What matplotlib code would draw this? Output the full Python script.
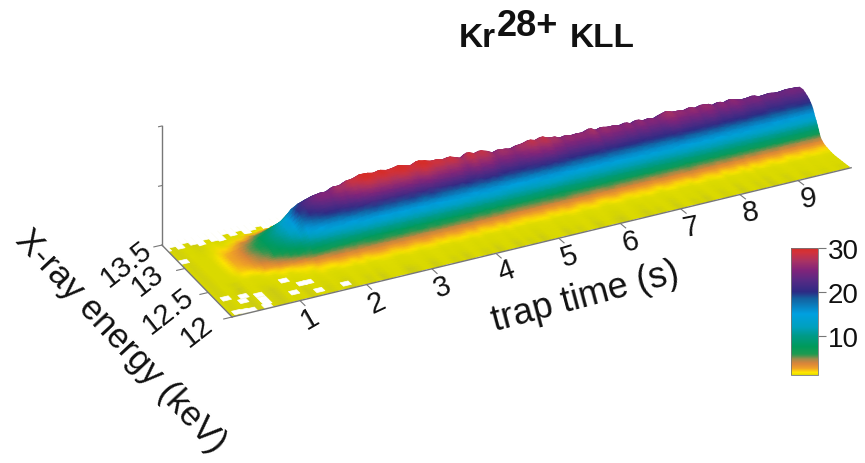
import matplotlib
matplotlib.use('Agg')
import matplotlib.pyplot as plt
import numpy as np
from matplotlib.collections import PolyCollection
from matplotlib.colors import LinearSegmentedColormap, Normalize
from matplotlib.cm import ScalarMappable

plt.rcParams['font.family'] = ['Liberation Sans', 'DejaVu Sans']

# trap time nodes (s), one every 0.1 s
trap_time = np.arange(100) * 0.1

# height of the line at each trap time (counts)
peak_counts = [0, 0, .1, .2, .5, 1, 1.8, 2.6, 3.5, 4.5,
               5.5, 7, 9, 10.5, 12.5, 15, 19, 21.5, 23, 23.8,
               24.4, 24.6, 26, 26.4, 27.8, 28, 29.4, 29.6, 28.8, 29.2,
               28.6, 29.2, 29.6, 28.6, 28.4, 29.8, 29.4, 28, 28.2, 27.8,
               28, 27.4, 26, 28.2, 27.2, 27.6, 26.9, 25, 26.4, 25.8,
               25, 26, 26.8, 27.6, 26.8, 27.6, 26.4, 26.6, 25, 25.4,
               25.2, 25.6, 25, 26.2, 24.8, 26, 25, 25.3, 24.2, 25.2,
               24.2, 25.2, 24, 24.9, 24, 25.6, 26.2, 25.2, 25.5, 24.7,
               25.4, 24.8, 25.6, 25.2, 24, 24.8, 24.2, 25, 24.3, 23.8,
               23.6, 24, 23.2, 23.2, 23.4, 23.1, 23, 23.5, 23.6, 23.4]

# background level under the line at each trap time
floor_level = [.5, .3, .6, .4, .25, .6, .7, .3, .25, .6,
               .4, .7, .25, .5, .6, .3, .7, .4, .25, .6,
               .6, .3, .7, .25, .5, .7, .6, .25, .35, .7,
               .5, .25, .6, .7, .3, .5, .25, .7, .6, .3,
               .7, .25, .5, .6, .25, .7, .35, .6, .25, .5,
               .6, .7, .25, .5, .35, .7, .6, .25, .5, .7,
               .35, .25, .6, .7, .4, .25, .6, .35, .7, .5,
               .25, .6, .7, .35, .5, .25, .7, .6, .3, .5,
               .7, .25, .5, .6, .3, .7, .25, .6, .5, .3,
               .6, .7, .35, .5, .7, .4, .6, .6, .4, .5]

# energy nodes (keV) and line shape, relative to the peak
energy = [12.00, 12.04, 12.08, 12.12, 12.16, 12.20, 12.24, 12.28, 12.32, 12.36,
          12.40, 12.43, 12.46, 12.49, 12.52, 12.54, 12.56, 12.58, 12.60, 12.62,
          12.64, 12.66, 12.68, 12.70, 12.73, 12.76, 12.80, 12.84, 12.90, 12.95,
          13.00, 13.10, 13.20, 13.30, 13.35, 13.40, 13.45, 13.50]
line_shape = [0, 0, 0, .002, .004, .006, .008, .012, .022, .038,
              .058, .072, .095, .13, .18, .25, .34, .42, .50, .56,
              .64, .72, .78, .82, .88, .92, .96, 1, 1, .95,
              .88, .6, .3, .1, .05, .02, 0, 0]

# where the measured surface stops at the back, first 2.6 s
back_edge = [13.36, 13.42, 13.36, 13.44, 13.38, 13.33, 13.42, 13.36, 13.32, 13.44,
             13.38, 13.44, 13.33, 13.40, 13.44, 13.34, 13.40, 13.36, 13.44, 13.33,
             13.40, 13.36, 13.44, 13.38, 13.33, 13.40]

# holes in the spectrum (no counts)
gap_time = [.12, .22, .32, .38, .32, .58, .58, .58, .55, .14, 1.05, 1.23, 1.33, 1.03, 1.36, .07, 1.76]
gap_energy = [12.06, 12.05, 12.04, 12.30, 12.22, 12.26, 12.18, 12.11, 12.05, 12.33, 12.40, 12.28, 12.28,
              12.16, 12.10, 13.12, 12.10]

# colour scale of the plot
level_stops = [0, .4, 1.07, 1.6, 2.6, 3.7, 4.7, 5.8, 7.5, 10, 12, 15, 18.5, 20, 22.5, 25, 27, 29, 30]
level_colors = ['#bcbc30', '#d8d800', '#e0dc00', '#ffe600', '#f0a028', '#d9843a', '#a08a4a',
                '#1d9a50', '#009a5a', '#009a88', '#00a0be', '#00a0e0', '#14609f', '#2d2a84',
                '#552a84', '#82247a', '#a83264', '#d2323a', '#d62d28']
zmax = 30
zbottom = 1.07

# ticks
time_ticks = [1, 2, 3, 4, 5, 6, 7, 8, 9]
energy_ticks = [12, 12.5, 13, 13.5]
energy_labels = ['12', '12.5', '13', '13.5']
count_ticks = [30, 60]
bar_ticks = [10, 20, 30]


def project(t, en, z=0):
    # hand fitted perspective view, gives pixels of the figure
    e = np.asarray(en) - 12
    w = 1 + 0.01026 * t + 0.0222 * e
    x = (232 + 71.08 * t - 43.1 * e) / w
    y = (318 - 13.3 * t - 42.5 * e - 2.05 * z) / w
    return x, y


def cell(t0, t1, e0, e1):
    # corners of a floor patch in pixels
    x, y = project(np.array([t0, t1, t1, t0]), np.array([e0, e0, e1, e1]))
    return np.column_stack([x, y])


fig = plt.figure(figsize=(8.65, 4.64), dpi=100)
ax = fig.add_axes([0, 0, 1, 1])
ax.set_xlim(0, 865)
ax.set_ylim(464, 0)
ax.axis('off')

cmap = LinearSegmentedColormap.from_list('surfer', [(v / zmax, c) for v, c in zip(level_stops, level_colors)], N=512)
norm = Normalize(0, zmax)

# build the surface, back rows first so the front ones paint over them
en = np.array(energy)[::-1]
shape = np.array(line_shape)[::-1]
T, E = np.meshgrid(trap_time, en)
Z = np.outer(shape, peak_counts) + np.array(floor_level)
X, Y = project(T, E, Z)

rear = en >= 13.30
ax.pcolormesh(X[rear], Y[rear], Z[rear], cmap=cmap, norm=norm, shading='gouraud', zorder=1)

# ragged back edge, white over the rear rows only
edge_cells = [cell(trap_time[i] - 0.05, trap_time[i] + 0.05, edge, 13.55) for i, edge in enumerate(back_edge)]
ax.add_collection(PolyCollection(edge_cells, facecolors='white', edgecolors='white', linewidths=0.5, zorder=2))

front = en <= 13.30
ax.pcolormesh(X[front], Y[front], Z[front], cmap=cmap, norm=norm, shading='gouraud', zorder=3)

gap_cells = [cell(t - 0.06, t + 0.06, e - 0.035, e + 0.035) for t, e in zip(gap_time, gap_energy)]
ax.add_collection(PolyCollection(gap_cells, facecolors='white', edgecolors='white', linewidths=0.5, zorder=4))

# axis lines
axis_color = '#777777'
x, y = project(np.array([0, 0]), np.array([13.5, 12]))
ax.plot(x, y, color=axis_color, lw=1, zorder=5)
x, y = project(np.array([0, 9.93]), np.array([12, 12]))
ax.plot(x, y, color=axis_color, lw=1, zorder=5)
x, y = project(np.array([0, 0]), np.array([13.5, 13.5]), np.array([0, 60]))
ax.plot(x, y, color=axis_color, lw=1)

for c in count_ticks:
    x, y = project(np.array([0, -0.05]), np.array([13.5, 13.5]), c)
    ax.plot(x, y, color=axis_color, lw=0.8)

# trap time ticks
time_rot = [30, 25, 22, 20, 17, 14, 11, 9, 8]
for tk, rot in zip(time_ticks, time_rot):
    x, y = project(np.array([tk, tk]), np.array([12, 11.9]))
    ax.plot(x, y, color=axis_color, lw=0.8)
    ax.text(x[1] + 5, y[1] + 13, str(tk), fontsize=21, rotation=rot, ha='center', va='center', color='#111111')

# energy ticks
label_dx = [-27, -32, -29, -28]
label_dy = [12, 16, 9, 16]
for tk, lab, dx, dy in zip(energy_ticks, energy_labels, label_dx, label_dy):
    x, y = project(np.array([0, -0.12]), np.array([tk, tk]))
    ax.plot(x, y, color=axis_color, lw=0.8)
    ax.text(x[1] + dx, y[1] + dy, lab, fontsize=21, rotation=38, ha='center', va='center', color='#111111')

ax.text(121, 341, 'X-ray energy (keV)', fontsize=25, rotation=-47, ha='center', va='center', color='#111111')
ax.text(585, 297, 'trap time (s)', fontsize=26, rotation=15, ha='center', va='center', color='#111111')

# title, the charge state sits raised
ax.text(459, 47, 'Kr', fontsize=24, fontweight='bold', va='baseline', color='#111111')
ax.text(497, 36, '28+', fontsize=26, fontweight='bold', va='baseline', color='#111111')
ax.text(570, 47, 'KLL', fontsize=24, fontweight='bold', va='baseline', color='#111111')

# colour bar
cax = fig.add_axes([791 / 865, 1 - 376 / 464, 27 / 865, 127 / 464])
cb = fig.colorbar(ScalarMappable(norm=norm, cmap=cmap), cax=cax)
cax.set_ylim(zbottom, zmax)
cb.set_ticks(bar_ticks)
cb.ax.tick_params(labelsize=20, length=6, width=0.8, color=axis_color, pad=1, labelcolor='#111111')
cb.outline.set_edgecolor(axis_color)
cb.outline.set_linewidth(0.6)

fig.savefig('out.png', dpi=100)
